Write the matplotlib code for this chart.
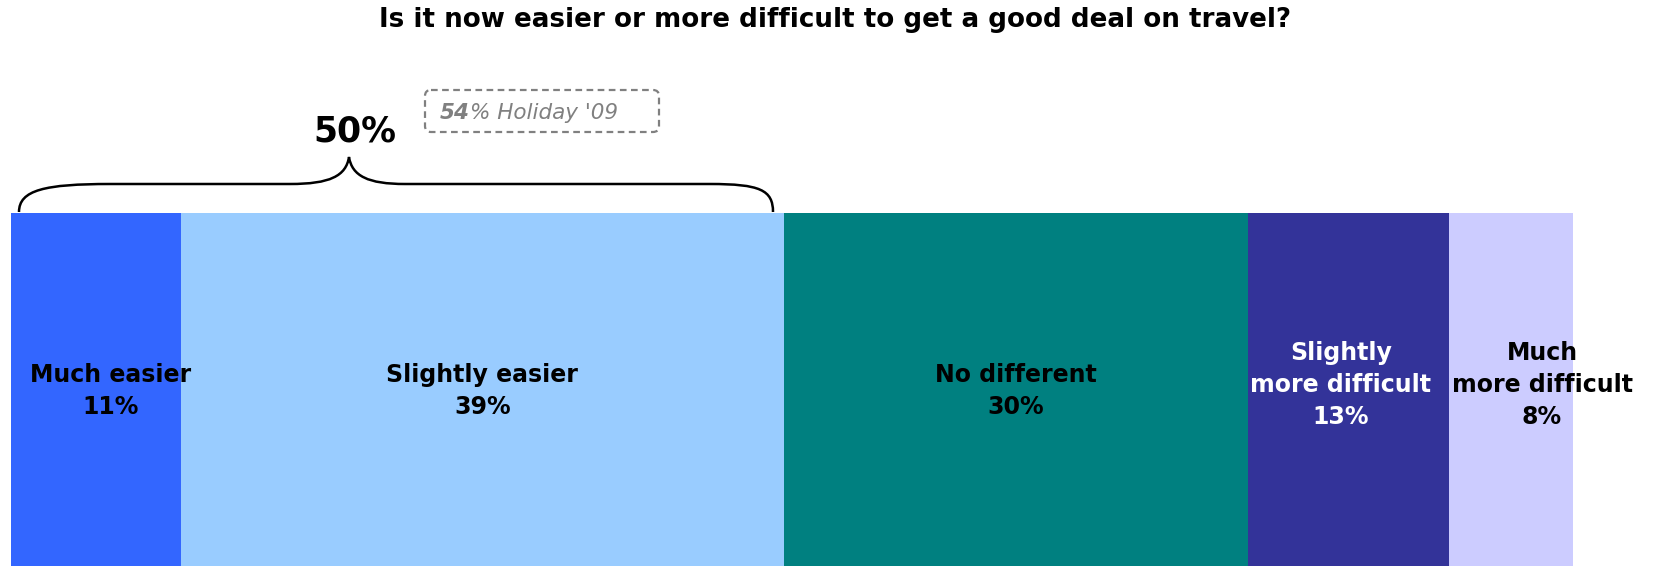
import numpy as np
import matplotlib.pyplot as plt
from matplotlib.path import Path
from matplotlib.patches import PathPatch, FancyBboxPatch

# survey answers
categories = ['Much easier', 'Slightly easier', 'No different',
              'Slightly\nmore difficult', 'Much\nmore difficult']
values = [11, 39, 30, 13, 8]
colors = ['#3366FF', '#99CCFF', '#008080', '#333399', '#CCCCFF']
text_colors = ['black', 'black', 'black', 'white', 'black']
label_shift = [1.0, 0, 0, -0.5, 2.0]   # nudge labels of narrow bars (in % units)

total_easier = 50
prev_easier = 54

W, H = 1653, 566
fig = plt.figure(figsize=(W / 100, H / 100), dpi=100)

# main stacked bar
ax = fig.add_axes([10.5 / W, 0, 1562.5 / W, 353 / H])
lefts = np.concatenate([[0], np.cumsum(values)[:-1]])
ax.barh(0.5, values, left=lefts, height=1, color=colors, linewidth=0)
ax.set_xlim(0, sum(values))
ax.set_ylim(0, 1)
ax.axis('off')

for cat, v, l, c, dx in zip(categories, values, lefts, text_colors, label_shift):
    label = f'{cat}\n{v}%'
    nlines = label.count('\n') + 1
    ax.text(l + v / 2 + dx, 0.462 + 0.017 * nlines, label, ha='center', va='center',
            color=c, fontsize=17, fontweight='bold', linespacing=1.4,
            clip_on=False, zorder=5)

# overlay in pixel units for title, brace and call-out
ov = fig.add_axes([0, 0, 1, 1], zorder=3)
ov.set_xlim(0, W)
ov.set_ylim(H, 0)
ov.axis('off')
ov.patch.set_alpha(0)

ov.text(835, 20, 'Is it now easier or more difficult to get a good deal on travel?',
        ha='center', va='center', fontsize=18.8, fontweight='bold')

# curly brace over the "easier" answers
verts = [(19, 212), (19, 190), (45, 184), (110, 184),
         (290, 184),
         (330, 184), (346, 176), (349, 157),
         (352, 176), (368, 184), (405, 184),
         (710, 184),
         (760, 184), (773, 190), (773, 212)]
codes = [Path.MOVETO, Path.CURVE4, Path.CURVE4, Path.CURVE4,
         Path.LINETO,
         Path.CURVE4, Path.CURVE4, Path.CURVE4,
         Path.CURVE4, Path.CURVE4, Path.CURVE4,
         Path.LINETO,
         Path.CURVE4, Path.CURVE4, Path.CURVE4]
ov.add_patch(PathPatch(Path(verts, codes), fill=False, lw=1.8, color='black'))

ov.text(355, 132, f'{total_easier}%', ha='center', va='center',
        fontsize=25, fontweight='bold')

# dashed call-out box with last year's figure
ov.add_patch(FancyBboxPatch((425, 90), 234, 42, boxstyle='round,pad=0,rounding_size=6',
                            fill=False, ec='#808080', lw=1.6, ls=(0, (3, 2))))
t = ov.text(440, 113, f'{prev_easier}', ha='left', va='center', fontsize=15.5,
            fontweight='bold', style='italic', color='#808080')
ov.annotate("% Holiday '09", xy=(1, 0.5), xycoords=t, ha='left', va='center',
            fontsize=15.5, style='italic', color='#808080')

plt.savefig('out.png', dpi=100)
